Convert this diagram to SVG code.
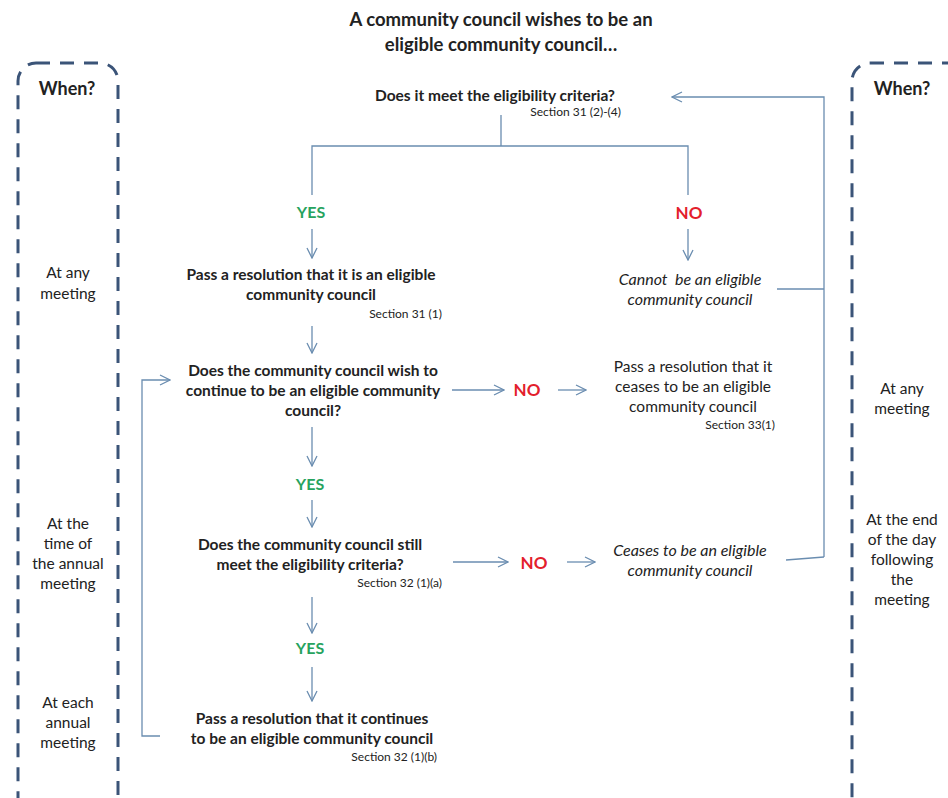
<svg xmlns="http://www.w3.org/2000/svg" width="948" height="798" viewBox="0 0 948 798">
<defs>
<marker id="ah" viewBox="0 0 12 12" refX="11" refY="6" markerWidth="12" markerHeight="12" markerUnits="userSpaceOnUse" orient="auto">
<path d="M1,1 L11,6 L1,11" fill="none" stroke="#6a8db0" stroke-width="1.3"/>
</marker>
<style>
text{font-family:Lato,"Open Sans","Liberation Sans",sans-serif;fill:#222;}
.t{font-size:18.5px;font-weight:bold;text-anchor:middle;}
.b{font-size:15.5px;font-weight:bold;text-anchor:middle;}
.n{font-size:15.5px;text-anchor:middle;}
.i{font-size:16px;font-style:italic;text-anchor:middle;white-space:pre;}
.s{font-size:12px;text-anchor:end;}
.w{font-size:15.5px;text-anchor:middle;}
.wh{font-size:18px;font-weight:bold;text-anchor:middle;}
.y{font-size:16px;font-weight:bold;text-anchor:middle;fill:#27a35e;}
.no{font-size:17px;font-weight:bold;text-anchor:middle;fill:#e3202c;}
.c{fill:none;stroke:#6a8db0;stroke-width:1.3;}
.a{fill:none;stroke:#6a8db0;stroke-width:1.3;marker-end:url(#ah);}
.box{fill:none;stroke:#3b5478;stroke-width:3;stroke-dasharray:14 10;}
</style>
</defs>
<rect width="948" height="798" fill="#fff"/>

<g id="title">
<text class="t" x="501" y="26">A community council wishes to be an</text>
<text class="t" x="501" y="51">eligible community council…</text>
</g>

<g id="when-left">
<rect class="box" x="18" y="63" width="100" height="760" rx="18"/>
<text class="wh" x="67" y="95">When?</text>
<text class="w" x="68" y="278">At any</text>
<text class="w" x="68" y="299">meeting</text>
<text class="w" x="68" y="529">At the</text>
<text class="w" x="68" y="549">time of</text>
<text class="w" x="68" y="569">the annual</text>
<text class="w" x="68" y="589">meeting</text>
<text class="w" x="68" y="708">At each</text>
<text class="w" x="68" y="728">annual</text>
<text class="w" x="68" y="748">meeting</text>
</g>

<g id="when-right">
<rect class="box" x="852" y="63" width="120" height="760" rx="18"/>
<text class="wh" x="902" y="95">When?</text>
<text class="w" x="902" y="394">At any</text>
<text class="w" x="902" y="414">meeting</text>
<text class="w" x="902" y="525">At the end</text>
<text class="w" x="902" y="545">of the day</text>
<text class="w" x="902" y="565">following</text>
<text class="w" x="902" y="585">the</text>
<text class="w" x="902" y="605">meeting</text>
</g>

<g id="connectors">
<path class="c" d="M501,115 V146 M312,195 V146 H688 V195"/>
<path class="a" d="M312,229 V258"/>
<path class="a" d="M688,229 V260"/>
<path class="c" d="M777,289 H824"/>
<path class="c" d="M786,560 L824,557"/>
<path class="a" d="M824,557 V97 H672"/>
<path class="a" d="M312,326 V353"/>
<path class="a" d="M452,390 H504"/>
<path class="a" d="M558,390 H586"/>
<path class="a" d="M312,427 V466"/>
<path class="a" d="M312,500 V527"/>
<path class="a" d="M453,562 H508"/>
<path class="a" d="M567,562 H595"/>
<path class="a" d="M312,597 V633"/>
<path class="a" d="M312,667 V701"/>
<path class="a" d="M160,736 H142 V380 H170"/>
</g>

<g id="q1">
<text class="b" x="495" y="101">Does it meet the eligibility criteria?</text>
<text class="s" x="621" y="116">Section 31 (2)-(4)</text>
</g>
<g id="yes1"><text class="y" x="311" y="218">YES</text></g>
<g id="no1"><text class="no" x="689" y="219">NO</text></g>
<g id="pass1">
<text class="b" x="311" y="280">Pass a resolution that it is an eligible</text>
<text class="b" x="311" y="300">community council</text>
<text class="s" x="442" y="318">Section 31 (1)</text>
</g>
<g id="cannot">
<text class="i" x="690" y="285">Cannot  be an eligible</text>
<text class="i" x="690" y="305">community council</text>
</g>
<g id="q2">
<text class="b" x="313" y="376">Does the community council wish to</text>
<text class="b" x="313" y="396">continue to be an eligible community</text>
<text class="b" x="313" y="416">council?</text>
</g>
<g id="no2"><text class="no" x="527" y="396">NO</text></g>
<g id="cease-res">
<text class="n" x="693" y="372">Pass a resolution that it</text>
<text class="n" x="693" y="392">ceases to be an eligible</text>
<text class="n" x="693" y="412">community council</text>
<text class="s" x="775" y="429">Section 33(1)</text>
</g>
<g id="yes2"><text class="y" x="310" y="490">YES</text></g>
<g id="q3">
<text class="b" x="310" y="550">Does the community council still</text>
<text class="b" x="310" y="570">meet the eligibility criteria?</text>
<text class="s" x="442" y="587">Section 32 (1)(a)</text>
</g>
<g id="no3"><text class="no" x="534" y="569">NO</text></g>
<g id="ceases">
<text class="i" x="690" y="556">Ceases to be an eligible</text>
<text class="i" x="690" y="576">community council</text>
</g>
<g id="yes3"><text class="y" x="310" y="654">YES</text></g>
<g id="pass2">
<text class="b" x="312" y="724">Pass a resolution that it continues</text>
<text class="b" x="312" y="744">to be an eligible community council</text>
<text class="s" x="437" y="761">Section 32 (1)(b)</text>
</g>
</svg>
